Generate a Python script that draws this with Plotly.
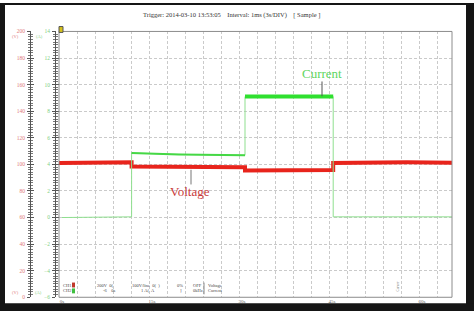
import plotly.graph_objects as go

W, H = 474, 314
def px(x):
    return x / W
def py(y):
    return 1 - y / H

# ---------------- data ----------------
volt_t = [0.0, 4.0, 8.0, 12.1, 12.1, 20.0, 31.0, 31.0, 38.0, 45.7, 45.7, 52.0, 58.0, 65.5]
volt_v = [101.0, 101.2, 101.4, 101.6, 98.4, 98.1, 97.8, 95.4, 95.6, 95.8, 101.0, 101.5, 101.6, 101.3]

cur_t = [0.5, 6.0, 12.1, 12.1, 20.0, 31.0, 31.0, 38.0, 45.7, 45.7, 55.0, 65.5]
cur_a = [0.0, 0.02, 0.05, 4.85, 4.75, 4.68, 9.1, 9.12, 9.1, 0.05, 0.06, 0.05]

volt_ticks = [0, 20, 40, 60, 80, 100, 120, 140, 160, 180, 200]
cur_ticks = [-6, -4, -2, 0, 2, 4, 6, 8, 10, 12, 14]
time_ticks = [0, 15, 30, 45, 60]
time_labels = ["0s", "15s", "30s", "45s", "60s"]

title_text = "Trigger: 2014-03-10 13:53:05    Interval: 1ms (3s/DIV)    [ Sample ]"

RED = "#e8241c"
GREEN_HI = "#2fe02f"
GREEN_MID = "#45d845"
GREEN_LO = "#8fdf8f"
SERIF = "Liberation Serif"
GRID = "#cacaca"
DASH = "3px,2px"

fig = go.Figure()

# current: thin full path
fig.add_trace(go.Scatter(x=cur_t, y=cur_a, mode="lines", yaxis="y2",
                         line=dict(color=GREEN_LO, width=1), hoverinfo="skip", showlegend=False))
# current: thicker plateaus
fig.add_trace(go.Scatter(x=cur_t[3:6], y=cur_a[3:6], mode="lines", yaxis="y2",
                         line=dict(color=GREEN_MID, width=2), hoverinfo="skip", showlegend=False))
fig.add_trace(go.Scatter(x=cur_t[6:9], y=cur_a[6:9], mode="lines", yaxis="y2",
                         line=dict(color=GREEN_HI, width=4), hoverinfo="skip", showlegend=False))
# voltage
fig.add_trace(go.Scatter(x=volt_t, y=volt_v, mode="lines", yaxis="y",
                         line=dict(color=RED, width=4), hoverinfo="skip", showlegend=False))
# invisible helpers so the two-sided ruler axes exist
fig.add_trace(go.Scatter(x=[volt_t[0]], y=[volt_v[0]], mode="markers", yaxis="y3",
                         marker=dict(opacity=0), hoverinfo="skip", showlegend=False))
fig.add_trace(go.Scatter(x=[cur_t[0]], y=[cur_a[0]], mode="markers", yaxis="y4",
                         marker=dict(opacity=0), hoverinfo="skip", showlegend=False))

xdom = [px(59), px(452)]
ydom = [py(300), py(29)]

axis_common = dict(showline=True, linecolor="#555", linewidth=1, zeroline=False,
                   showgrid=False)

fig.update_layout(
    width=W, height=H,
    margin=dict(l=0, r=0, t=0, b=0),
    paper_bgcolor="white", plot_bgcolor="white",
    xaxis=dict(domain=xdom, range=[0, 65.5], tickmode="array", tickvals=time_ticks,
               ticktext=time_labels, ticks="", showline=False, zeroline=False,
               showgrid=True, gridcolor=GRID, griddash=DASH, gridwidth=1,
               minor=dict(dtick=3, tick0=0, showgrid=True, gridcolor=GRID,
                          griddash=DASH, gridwidth=1),
               tickfont=dict(family=SERIF, size=5, color="#666"),
               ticklabelshift=3, ticklabelstandoff=0),
    yaxis=dict(domain=ydom, range=[0, 200], anchor="free", position=px(30), side="left",
               tickmode="array", tickvals=volt_ticks, ticks="outside", ticklen=3,
               tickcolor="#555",
               minor=dict(dtick=2, tick0=0, ticks="outside", ticklen=2, tickcolor="#777"),
               tickfont=dict(family=SERIF, size=5.5, color="#e07b7b"),
               ticklabelstandoff=1,
               showline=True, linecolor="#555", linewidth=1, zeroline=False,
               showgrid=True, gridcolor=GRID, griddash=DASH, gridwidth=1),
    yaxis3=dict(domain=ydom, range=[0, 200], anchor="free", position=px(30), side="left",
                overlaying="y", tickmode="array", tickvals=volt_ticks, ticks="inside",
                ticklen=3, tickcolor="#555", showticklabels=False,
                minor=dict(dtick=2, tick0=0, ticks="inside", ticklen=2, tickcolor="#777"),
                **axis_common),
    yaxis2=dict(domain=ydom, range=[-6, 14], anchor="free", position=px(55), side="left",
                overlaying="y", tickmode="array", tickvals=cur_ticks, ticks="outside",
                ticklen=3, tickcolor="#555",
                minor=dict(dtick=0.2, tick0=0, ticks="outside", ticklen=2, tickcolor="#777"),
                tickfont=dict(family=SERIF, size=5.5, color="#7fcf7f"),
                ticklabelstandoff=1, **axis_common),
    yaxis4=dict(domain=ydom, range=[-6, 14], anchor="free", position=px(55), side="left",
                overlaying="y", tickmode="array", tickvals=cur_ticks, ticks="inside",
                ticklen=3, tickcolor="#555", showticklabels=False,
                minor=dict(dtick=0.2, tick0=0, ticks="inside", ticklen=2, tickcolor="#777"),
                **axis_common),
)

shapes = []
# plot frame
shapes.append(dict(type="rect", xref="paper", yref="paper", x0=xdom[0], x1=xdom[1],
                   y0=ydom[0], y1=ydom[1], line=dict(color="#8c8c8c", width=1)))
# outer dark frame
for (x0, x1, y0, y1) in [(0, 5, 0, 314), (466, 474, 0, 314), (0, 474, 0, 2), (0, 474, 306, 314)]:
    shapes.append(dict(type="rect", xref="paper", yref="paper", x0=px(x0), x1=px(x1),
                       y0=py(y1), y1=py(y0), fillcolor="#151515", line=dict(width=0),
                       layer="above"))
# trigger marker
shapes.append(dict(type="rect", xref="paper", yref="paper", x0=px(59), x1=px(63),
                   y0=py(30), y1=py(24), fillcolor="#d6c21a", line=dict(color="#555", width=1)))
# pointer lines
shapes.append(dict(type="line", xref="paper", yref="paper", x0=px(322), x1=px(322),
                   y0=py(80), y1=py(95), line=dict(color="#555", width=1)))
shapes.append(dict(type="line", xref="paper", yref="paper", x0=px(191), x1=px(191),
                   y0=py(170), y1=py(185), line=dict(color="#777", width=1)))
# channel colour boxes
shapes.append(dict(type="rect", xref="paper", yref="paper", x0=px(72), x1=px(75),
                   y0=py(290), y1=py(285), fillcolor="#c0392b", line=dict(width=0)))
shapes.append(dict(type="rect", xref="paper", yref="paper", x0=px(72), x1=px(75),
                   y0=py(296), y1=py(291), fillcolor="#3fbf3f", line=dict(width=0)))
# table separator
shapes.append(dict(type="line", xref="paper", yref="paper", x0=px(204), x1=px(204),
                   y0=py(297), y1=py(285), line=dict(color="#888", width=1)))
fig.update_layout(shapes=shapes)

ann = []
def text(x, y, s, size, color, xanchor="center", angle=0):
    ann.append(dict(x=px(x), y=py(y), xref="paper", yref="paper", text=s, showarrow=False,
                    font=dict(family=SERIF, size=size, color=color), xanchor=xanchor,
                    yanchor="middle", textangle=angle))

text(231, 12, title_text, 6.5, "#333")
text(322, 72, "Current", 13, "#5ed65e")
text(190, 192, "Voltage", 13, "#c83a3a")
text(15, 34, "(V)", 4.5, "#e07b7b")
text(39, 34, "(A)", 4.5, "#7fcf7f")
text(15, 295, "(V)", 4.5, "#e07b7b")
text(38, 295, "(A)", 4.5, "#7fcf7f")
# channel info table
text(61, 288, "CH1", 4.5, "#444", "left")
text(61, 293, "CH2", 4.5, "#444", "left")
text(95, 288, "200V  0(", 4.5, "#444", "left")
text(101, 293, "-6    0s", 4.5, "#444", "left")
text(130, 288, "100V/line  0(  )", 4.5, "#444", "left")
text(139, 293, "1 A(  A", 4.5, "#444", "left")
text(175, 288, "0%", 4.5, "#444", "left")
text(178, 293, "]", 4.5, "#444", "left")
text(191, 288, "OFF", 4.5, "#444", "left")
text(191, 293, "0kHz", 4.5, "#444", "left")
text(206, 288, "Voltage", 4.5, "#444", "left")
text(206, 293, "Current", 4.5, "#444", "left")
text(398, 289, "Cursor", 3.5, "#666", "center", -90)
fig.update_layout(annotations=ann)

fig.write_html("out.html")
